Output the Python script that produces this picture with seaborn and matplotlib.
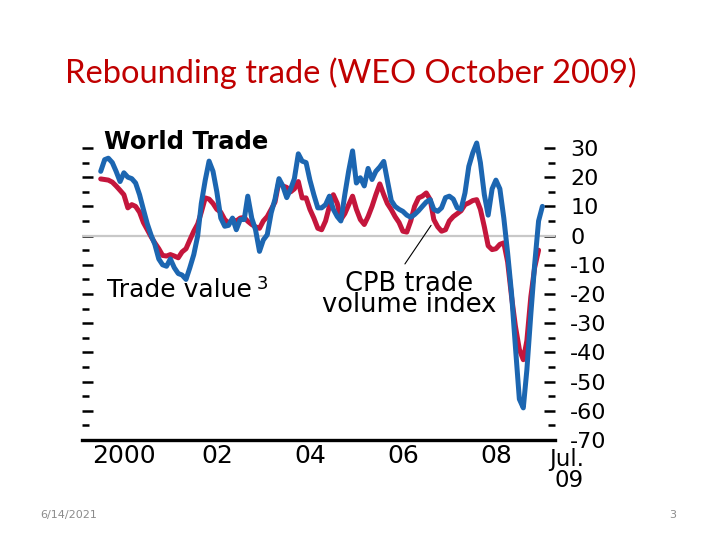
import pandas as pd
import numpy as np
import matplotlib
matplotlib.use("Agg")
import matplotlib.pyplot as plt
import matplotlib.dates as mdates
import seaborn as sns

# monthly, Jan 2000 .. Jul 2009 (percent change, y/y)
trade_value = [
    22, 26, 26.5, 25, 22, 18.5, 21.5, 20, 19.5, 18,
    14, 9, 4, 0, -3, -8, -10, -10.5, -8, -11,
    -13, -13.5, -15, -11, -6.5, 0, 11, 19, 25.5, 22,
    15, 6, 3.2, 3.5, 6, 2, 5.5, 5.5, 13.5, 6,
    2, -5.4, -1.5, 0.3, 7.8, 12.5, 19.5, 17, 13, 16,
    19.5, 28, 25.5, 25, 19, 14, 9.5, 9.5, 10.6, 13.5,
    9, 6.5, 5, 14, 22, 29, 18, 19.8, 17, 23,
    19.2, 22, 23.5, 25.4, 19, 12, 10, 9, 8.3, 7,
    6.3, 7.2, 8.5, 10, 11.5, 12.3, 9, 8.3, 9.5, 13,
    13.5, 12.5, 9.5, 9, 14.6, 23.7, 28.3, 31.7, 25, 14,
    7, 16, 19, 16, 6, -6, -20, -38, -56, -59,
    -46, -27, -10, 5, 10,
]
cpb_volume = [
    19.4, 19.2, 19, 18.3, 17, 15.5, 14, 9.5, 10.6, 10,
    8, 4.5, 2, -0.5, -2.5, -4.5, -6.8, -7, -6.5, -7,
    -7.6, -5.6, -4.5, -1.5, 1.5, 4, 8, 12.9, 12.5, 11,
    9, 8, 5.5, 4.3, 5.5, 5, 6, 6.2, 4.9, 3.8,
    3, 2.5, 5, 6.5, 9, 11.5, 18.6, 17, 16.5, 15,
    16, 18.5, 12.9, 12.9, 9, 6, 2.5, 2, 5, 10,
    14, 11, 5.5, 7.5, 10.5, 13.5, 9, 5.5, 3.8, 6.5,
    10, 14, 17.7, 14, 11, 8.9, 6.5, 4.5, 1.5, 1.2,
    5, 10, 12.9, 13.5, 14.6, 12.3, 5.5, 3, 1.5, 2,
    5, 6.5, 7.5, 8.5, 10.6, 11.2, 12, 12.3, 9, 3,
    -3.5, -4.8, -4.5, -3, -2.5, -9, -21, -31, -39, -42.5,
    -36, -21, -11, -5,
]
year_labels = ["2000", "02", "04", "06", "08"]
label_years = [2000, 2002, 2004, 2006, 2008]
y_major = list(range(-70, 31, 10))
y_minor = list(range(-65, 31, 10))

dates = pd.date_range("2000-01-01", periods=len(trade_value), freq="MS")
df_value = pd.DataFrame({"date": dates, "value": trade_value})
df_cpb = pd.DataFrame({"date": dates[:len(cpb_volume)], "value": cpb_volume})

sns.set_style("white")
plt.rcParams["font.family"] = ["DejaVu Sans"]
plt.rcParams["axes.unicode_minus"] = False
plt.rcParams["text.color"] = "black"
plt.rcParams["xtick.labelcolor"] = "black"
plt.rcParams["ytick.labelcolor"] = "black"

BLUE = "#1c66b1"
RED = "#c4163c"

fig = plt.figure(figsize=(7.2, 5.4), dpi=100)
ax = fig.add_axes([82 / 720, 100 / 540, 473 / 720, 303.7 / 540])

ax.axhline(0, color="#c8c8c8", lw=1.6, zorder=1)
sns.lineplot(data=df_cpb, x="date", y="value", color=RED, lw=3.6, ax=ax, zorder=2)
sns.lineplot(data=df_value, x="date", y="value", color=BLUE, lw=3.6, ax=ax, zorder=3)

ax.set_xlim(pd.Timestamp("1999-08-07"), pd.Timestamp("2009-10-08"))
ax.set_ylim(-70, 34)
ax.set_xlabel("")
ax.set_ylabel("")

for side in ["top", "left", "right"]:
    ax.spines[side].set_visible(False)
ax.spines["bottom"].set_color("black")
ax.spines["bottom"].set_linewidth(2.4)

# x axis: year-start ticks, labels centred in mid-year
ax.set_xticks(pd.date_range("2000-01-01", "2009-01-01", freq="YS"))
ax.set_xticklabels([])
ax.set_xticks([pd.Timestamp(f"{y}-07-01") for y in label_years], year_labels, minor=True)
ax.tick_params(axis="x", which="major", direction="in", length=5, width=2, color="black")
ax.tick_params(axis="x", which="minor", length=0, pad=3, labelsize=18)
ax.text(584 / 720, 1 - 470 / 540, "Jul.\n09", transform=fig.transFigure, ha="right",
        va="center", multialignment="right", fontsize=16.5, linespacing=0.85)

# y axis: tick marks on both sides, labels on the right
ax.set_yticks(y_major)
ax.set_yticks(y_minor, minor=True)
ax.tick_params(axis="y", which="both", direction="in", left=True, right=True,
               labelleft=False, labelright=True, color="black")
ax.tick_params(axis="y", which="major", length=8, width=1.8, pad=11, labelsize=16)
ax.tick_params(axis="y", which="minor", length=5, width=1.8)

ax.text(0.046, 0.981, "World Trade", transform=ax.transAxes, fontsize=17.5,
        fontweight="bold", va="center", ha="left")
ax.text(0.053, 0.494, "Trade value", transform=ax.transAxes, fontsize=18,
        va="center", ha="left")
ax.text(0.37, 0.515, "3", transform=ax.transAxes, fontsize=13, va="center", ha="left")

ax.annotate("", xy=(mdates.date2num(pd.Timestamp("2007-02-20")), 4.3),
            xytext=(mdates.date2num(pd.Timestamp("2006-07-05")), -10.5),
            arrowprops=dict(arrowstyle="-", lw=0.8, color="black"))
ax.text(mdates.date2num(pd.Timestamp("2006-08-20")), -12, "CPB trade\nvolume index",
        ha="center", va="top", fontsize=18.5, linespacing=0.75)

fig.text(351 / 720, 1 - 73 / 540, "Rebounding trade (WEO October 2009)", ha="center",
         va="center", fontsize=23.5, color="#c00000", family="Lato")
fig.text(40 / 720, 1 - 515 / 540, "6/14/2021", fontsize=8, color="#8b8b8b", va="center")
fig.text(676 / 720, 1 - 515 / 540, "3", fontsize=8, color="#8b8b8b", va="center", ha="right")

fig.savefig("out.png", dpi=100)
